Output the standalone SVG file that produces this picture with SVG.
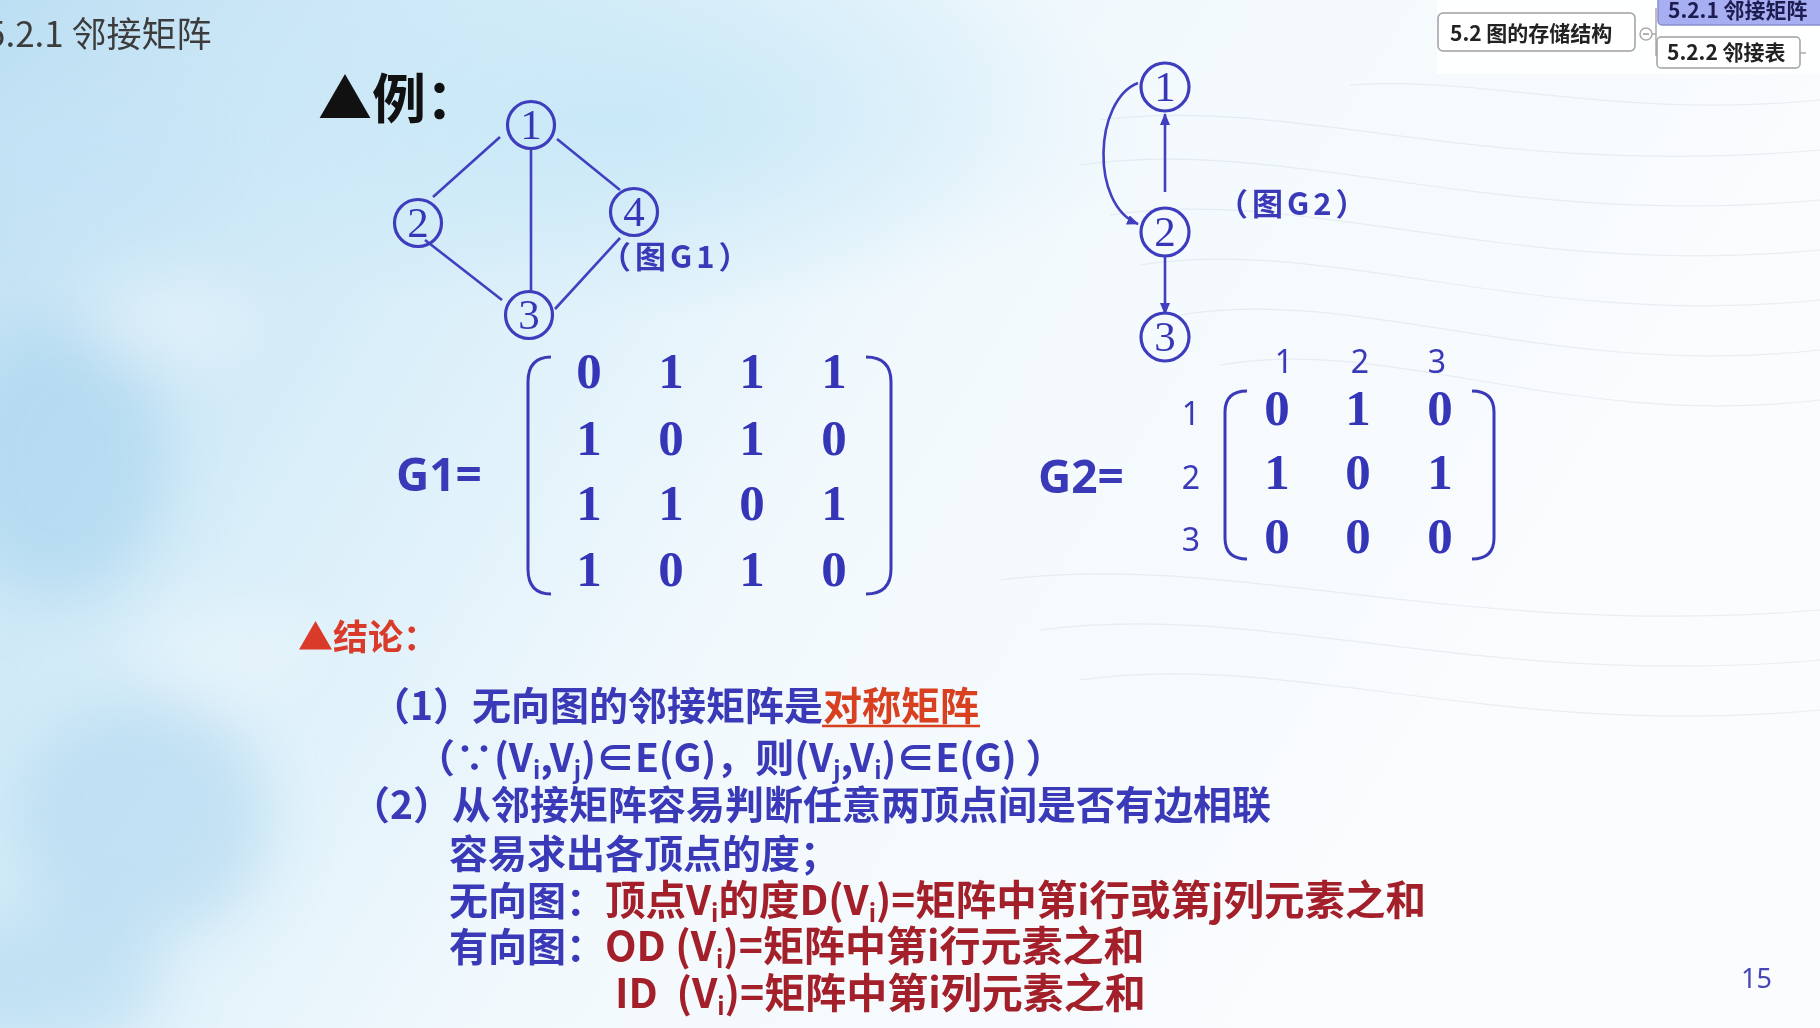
<svg xmlns="http://www.w3.org/2000/svg" width="1820" height="1028" viewBox="0 0 1820 1028">
<defs>
  <linearGradient id="bg" x1="0" y1="0" x2="1" y2="0.35">
    <stop offset="0" stop-color="#bddff3"/>
    <stop offset="0.28" stop-color="#d8eef9"/>
    <stop offset="0.55" stop-color="#f2f9fd"/>
    <stop offset="1" stop-color="#fbfcfe"/>
  </linearGradient>
  <radialGradient id="glow" cx="0.5" cy="0.5" r="0.5">
    <stop offset="0" stop-color="#c6e7f7" stop-opacity="0.9"/>
    <stop offset="1" stop-color="#c6e7f7" stop-opacity="0"/>
  </radialGradient>
  <filter id="soft" x="-50%" y="-50%" width="200%" height="200%">
    <feGaussianBlur stdDeviation="30"/>
  </filter>
  <marker id="arr" viewBox="0 0 12 10" refX="11" refY="5" markerWidth="12" markerHeight="10" markerUnits="userSpaceOnUse" orient="auto">
    <path d="M0,0 L12,5 L0,10 z" fill="#3f3fbf"/>
  </marker>
  <style>
    .edge{stroke:#4040c0;stroke-width:2.6;fill:none}
    .node circle{fill:none;stroke:#3d3dbd;stroke-width:3.2}
    .node text{font-family:"Liberation Serif",serif;font-size:43px;fill:#3636b6;text-anchor:middle}
    .cap{font-family:"Noto Sans CJK SC",sans-serif;font-weight:700;font-size:31px;fill:#3a3ab8;letter-spacing:4px}
    .mx{font-family:"Liberation Serif",serif;font-weight:700;font-size:51px;fill:#3535b8;text-anchor:middle}
    .br{fill:none;stroke:#3a3ab8;stroke-width:3}
    .lbl{font-family:"Noto Sans","Liberation Sans",sans-serif;font-size:32px;fill:#3a3ab8;text-anchor:middle}
    .eq{font-family:"Noto Sans","Liberation Sans",sans-serif;font-weight:700;font-size:46px;fill:#3a3ab8}
    .body{font-family:"Noto Sans CJK SC",sans-serif;font-weight:700;font-size:39px;fill:#3a3ab8}
    .red{fill:#a3202a;font-size:41px}
    .red.tight{font-size:40.5px}
    .hot{fill:#d8401f}
    .sub{font-size:24px}
    .tab rect{fill:#fff;stroke:#a0a0a0;stroke-width:1.5}
    .tab text{font-family:"Noto Sans CJK SC",sans-serif;font-weight:700;font-size:21px;fill:#222}
    .wave{fill:none;stroke:#c4ccd6;stroke-width:1.2;opacity:0.3}
  </style>
</defs>

<!-- backdrop -->
<rect width="1820" height="1028" fill="url(#bg)"/>
<ellipse cx="620" cy="120" rx="520" ry="200" fill="url(#glow)"/>
<g filter="url(#soft)">
  <ellipse cx="60" cy="460" rx="110" ry="140" fill="#a9d3ee" opacity="0.6"/>
  <ellipse cx="140" cy="820" rx="130" ry="120" fill="#acd5ef" opacity="0.55"/>
  <ellipse cx="40" cy="980" rx="120" ry="70" fill="#b0d8f0" opacity="0.6"/>
  <ellipse cx="170" cy="320" rx="90" ry="45" fill="#ffffff" opacity="0.3"/>
  <ellipse cx="230" cy="650" rx="90" ry="45" fill="#ffffff" opacity="0.3"/>
  <ellipse cx="90" cy="160" rx="120" ry="70" fill="#c4e4f6" opacity="0.6"/>
</g>
<g>
  <path class="wave" d="M1100,120 C1300,95 1480,180 1820,150"/>
  <path class="wave" d="M1080,165 C1290,135 1490,230 1820,200"/>
  <path class="wave" d="M1110,215 C1310,185 1510,280 1820,250"/>
  <path class="wave" d="M1140,265 C1330,235 1530,330 1820,300"/>
  <path class="wave" d="M1180,315 C1360,285 1550,380 1820,350"/>
  <path class="wave" d="M1220,365 C1390,335 1570,430 1820,400"/>
  <path class="wave" d="M1350,85 C1480,75 1620,120 1820,100"/>
  <path class="wave" d="M1000,580 C1230,550 1460,640 1820,610"/>
  <path class="wave" d="M1040,630 C1260,600 1480,690 1820,660"/>
  <path class="wave" d="M1080,680 C1290,650 1500,740 1820,710"/>
</g>

<!-- heading -->
<text x="-14" y="47" font-family="Noto Sans CJK SC, sans-serif" font-size="35" fill="#3c3c3c">5.2.1 邻接矩阵</text>

<!-- navigation tabs -->
<g id="nav">
  <rect x="1437" y="0" width="383" height="74" fill="#ffffff" opacity="0.85"/>
  <g class="tab" id="tab-52">
    <rect x="1438" y="13" width="197" height="38" rx="5"/>
    <text x="1450" y="41">5.2 图的存储结构</text>
  </g>
  <circle cx="1646" cy="34" r="6" fill="#fff" stroke="#aaa" stroke-width="1.5"/>
  <line x1="1643" y1="34" x2="1649" y2="34" stroke="#999" stroke-width="1.5"/>
  <path d="M1652,34 H1656 M1656,8 V56" fill="none" stroke="#aaa" stroke-width="1.5"/>
  <g class="tab" id="tab-521">
    <rect x="1658" y="-5" width="170" height="30" rx="4" style="fill:#a7aff2;stroke:#8890d0"/>
    <text x="1668" y="18" style="fill:#1c1c50">5.2.1 邻接矩阵</text>
  </g>
  <g class="tab" id="tab-522">
    <rect x="1657" y="37" width="143" height="31" rx="4"/>
    <text x="1667" y="60">5.2.2 邻接表</text>
  </g>
  <line x1="1800" y1="53" x2="1806" y2="53" stroke="#aaa" stroke-width="1.5"/>
</g>

<!-- example heading -->
<text x="318" y="119" font-family="Noto Sans CJK SC, sans-serif" font-weight="700" font-size="54" fill="#111">▲例：</text>

<!-- connectors -->
<g id="connectors">
  <line class="edge" x1="500" y1="137" x2="433" y2="197"/>
  <line class="edge" x1="531" y1="150" x2="531" y2="292"/>
  <line class="edge" x1="557" y1="139" x2="620" y2="190"/>
  <line class="edge" x1="425" y1="240" x2="502" y2="300"/>
  <line class="edge" x1="620" y1="238" x2="555" y2="309"/>
  <line class="edge" x1="1165" y1="192" x2="1165" y2="114" marker-end="url(#arr)"/>
  <line class="edge" x1="1165" y1="256" x2="1165" y2="314" marker-end="url(#arr)"/>
  <path class="edge" d="M1138,83 C1094,100 1090,205 1138,224" marker-end="url(#arr)"/>
</g>

<!-- undirected graph G1 -->
<g id="g1-n1" class="node"><circle cx="531" cy="125" r="23.5"/><text x="531" y="139">1</text></g>
<g id="g1-n2" class="node"><circle cx="418" cy="223" r="23.5"/><text x="418" y="237">2</text></g>
<g id="g1-n3" class="node"><circle cx="529" cy="315" r="23.5"/><text x="529" y="329">3</text></g>
<g id="g1-n4" class="node"><circle cx="634" cy="212" r="23.5"/><text x="634" y="226">4</text></g>
<text class="cap" x="600" y="268">（图G1）</text>

<!-- directed graph G2 -->
<g id="g2-n1" class="node"><circle cx="1165" cy="87" r="24"/><text x="1165" y="101">1</text></g>
<g id="g2-n2" class="node"><circle cx="1165" cy="232" r="24"/><text x="1165" y="246">2</text></g>
<g id="g2-n3" class="node"><circle cx="1165" cy="337" r="24"/><text x="1165" y="351">3</text></g>
<text class="cap" x="1217" y="215">（图G2）</text>

<!-- matrix of G1 -->
<g id="matrix-g1">
  <text class="eq" x="396" y="491">G1=</text>
  <path class="br" d="M551,357 Q528,357 528,382 V569 Q528,594 551,594"/>
  <path class="br" d="M866,357 Q891,357 891,382 V569 Q891,594 866,594"/>
  <text class="mx" y="388"><tspan x="589">0</tspan><tspan x="671">1</tspan><tspan x="752">1</tspan><tspan x="834">1</tspan></text>
  <text class="mx" y="455"><tspan x="589">1</tspan><tspan x="671">0</tspan><tspan x="752">1</tspan><tspan x="834">0</tspan></text>
  <text class="mx" y="520"><tspan x="589">1</tspan><tspan x="671">1</tspan><tspan x="752">0</tspan><tspan x="834">1</tspan></text>
  <text class="mx" y="586"><tspan x="589">1</tspan><tspan x="671">0</tspan><tspan x="752">1</tspan><tspan x="834">0</tspan></text>
</g>

<!-- matrix of G2 -->
<g id="matrix-g2">
  <text class="eq" x="1038" y="493">G2=</text>
  <text class="lbl" y="373"><tspan x="1284">1</tspan><tspan x="1360">2</tspan><tspan x="1437">3</tspan></text>
  <text class="lbl" x="1191" y="425">1</text>
  <text class="lbl" x="1191" y="489">2</text>
  <text class="lbl" x="1191" y="551">3</text>
  <path class="br" d="M1247,391 Q1225,391 1225,412 V538 Q1225,559 1247,559"/>
  <path class="br" d="M1472,391 Q1494,391 1494,412 V538 Q1494,559 1472,559"/>
  <text class="mx" y="425"><tspan x="1277">0</tspan><tspan x="1358">1</tspan><tspan x="1440">0</tspan></text>
  <text class="mx" y="489"><tspan x="1277">1</tspan><tspan x="1358">0</tspan><tspan x="1440">1</tspan></text>
  <text class="mx" y="553"><tspan x="1277">0</tspan><tspan x="1358">0</tspan><tspan x="1440">0</tspan></text>
</g>

<!-- conclusions -->
<g id="conclusions">
  <text x="298" y="650" font-family="Noto Sans CJK SC, sans-serif" font-weight="700" font-size="35" fill="#d93a2a">▲结论：</text>
  <text class="body" x="371" y="720">（1）无向图的邻接矩阵是<tspan class="hot">对称矩阵</tspan></text>
  <line x1="822" y1="726" x2="980" y2="726" stroke="#d8401f" stroke-width="2.5"/>
  <text class="body" x="416" y="772">（∵(V<tspan class="sub" dy="7">i</tspan><tspan dy="-7">,V</tspan><tspan class="sub" dy="7">j</tspan><tspan dy="-7">)∈E(G)，则(V</tspan><tspan class="sub" dy="7">j</tspan><tspan dy="-7">,V</tspan><tspan class="sub" dy="7">i</tspan><tspan dy="-7">)∈E(G) ）</tspan></text>
  <text class="body" x="351" y="819">（2）从邻接矩阵容易判断任意两顶点间是否有边相联</text>
  <text class="body" x="449" y="868">容易求出各顶点的度；</text>
  <text class="body" x="449" y="915">无向图：<tspan class="red tight">顶点V</tspan><tspan class="red sub" dy="7">i</tspan><tspan class="red tight" dy="-7">的度D(V</tspan><tspan class="red sub" dy="7">i</tspan><tspan class="red tight" dy="-7">)=矩阵中第i行或第j列元素之和</tspan></text>
  <text class="body" x="449" y="961">有向图：<tspan class="red">OD (V</tspan><tspan class="red sub" dy="7">i</tspan><tspan class="red" dy="-7">)=矩阵中第i行元素之和</tspan></text>
  <text class="body red" x="615" y="1008" xml:space="preserve" style="white-space:pre">ID  (V<tspan class="sub" dy="7">i</tspan><tspan dy="-7">)=矩阵中第i列元素之和</tspan></text>
</g>

<!-- page number -->
<text x="1741" y="988" font-family="Noto Sans, sans-serif" font-size="27" fill="#4646b8">15</text>
</svg>
